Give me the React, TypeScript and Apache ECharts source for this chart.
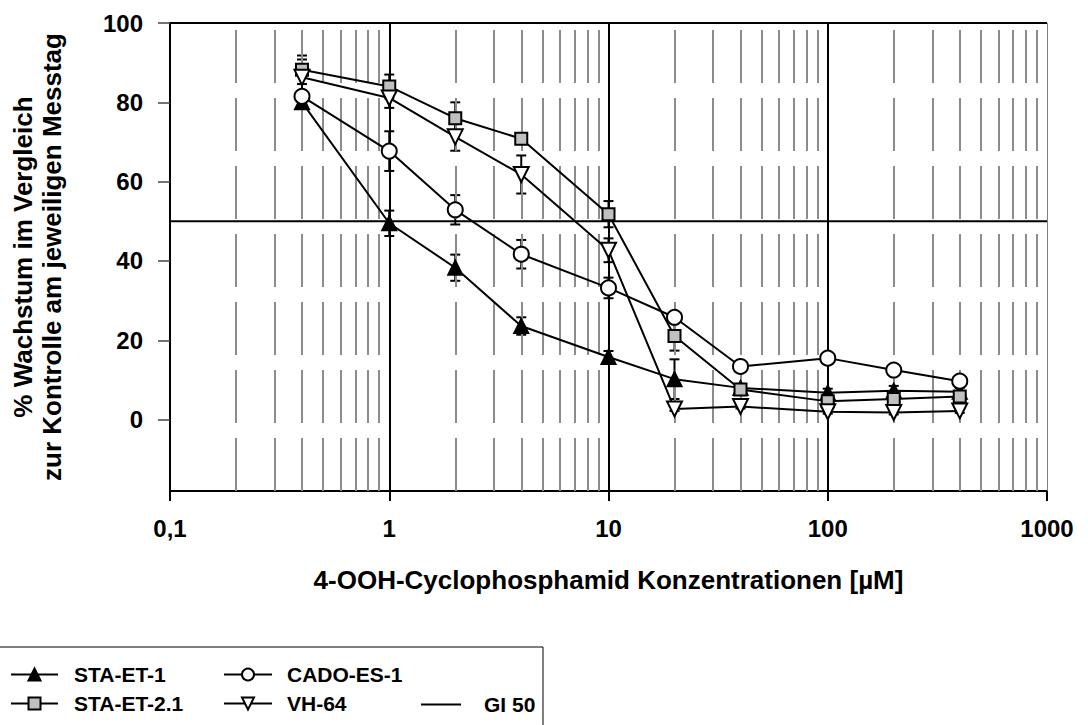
import React, { useEffect, useRef } from "react";
import * as echarts from "echarts";

// ---- data ----
const concentrations = [0.4, 1, 2, 4, 10, 20, 40, 100, 200, 400];
const staEt1 = [80, 49.5, 38.3, 23.6, 15.8, 10.2, 8, 6.8, 7.3, 7];
const staEt1Err = [1.5, 3.2, 3.3, 2.2, 1.5, 5, 1, 1, 1.2, 1];
const staEt21 = [88.2, 84, 76, 70.8, 51.8, 21.1, 7.6, 4.6, 5.2, 5.8];
const staEt21Err = [3.6, 3, 4, 1, 3.3, 3.7, 1, 1, 1, 1];
const cadoEs1 = [81.5, 67.7, 52.9, 41.7, 33.2, 25.8, 13.4, 15.5, 12.5, 9.7];
const cadoEs1Err = [1.5, 5, 3.7, 3.6, 2.6, 1, 0.5, 0.5, 0.5, 0.5];
const vh64 = [86.3, 81.1, 71.3, 61.8, 42.7, 2.7, 3.3, 2, 1.8, 2.2];
const vh64Err = [4.5, 2.5, 3.5, 4.8, 3, 0.5, 0.5, 0.5, 0.5, 0.5];
const gi50Value = 50;
const yTicks = [0, 20, 40, 60, 80, 100];
const majorGrid = [1, 10, 100];
const minorGrid = [
  0.2, 0.3, 0.4, 0.5, 0.6, 0.7, 0.8, 0.9,
  2, 3, 4, 5, 6, 7, 8, 9,
  20, 30, 40, 50, 60, 70, 80, 90,
  200, 300, 400, 500, 600, 700, 800, 900,
];
const xMin = 0.1;
const xMax = 1000;
const yMin = -18;
const yMax = 100;

const FONT = "'Liberation Sans', Arial, sans-serif";

const pairs = (vals: number[]) => concentrations.map((c, i) => [c, vals[i]]);

function errorSeries(vals: number[], errs: number[]) {
  return {
    type: "custom",
    silent: true,
    z: 3,
    data: concentrations.map((c, i) => [c, vals[i] - errs[i], vals[i] + errs[i]]),
    encode: { x: 0, y: [1, 2] },
    renderItem: (params: any, api: any) => {
      const x = api.value(0);
      const lo = api.coord([x, api.value(1)]);
      const hi = api.coord([x, api.value(2)]);
      const hw = 5;
      const st = { stroke: "#000", lineWidth: 2 };
      return {
        type: "group",
        children: [
          { type: "line", shape: { x1: lo[0], y1: lo[1], x2: hi[0], y2: hi[1] }, style: st },
          { type: "line", shape: { x1: lo[0] - hw, y1: lo[1], x2: lo[0] + hw, y2: lo[1] }, style: st },
          { type: "line", shape: { x1: hi[0] - hw, y1: hi[1], x2: hi[0] + hw, y2: hi[1] }, style: st },
        ],
      };
    },
  };
}

function dataSeries(name: string, vals: number[], symbol: string, size: number, fill: string, rotate = 0) {
  return {
    type: "line",
    name,
    data: pairs(vals),
    symbol,
    symbolSize: size,
    symbolRotate: rotate,
    showAllSymbol: true,
    z: 5,
    lineStyle: { color: "#000", width: 2 },
    itemStyle: { color: fill, borderColor: "#000", borderWidth: 2 },
    emphasis: { disabled: true },
  };
}

export default function App() {
  const ref = useRef<HTMLDivElement>(null);
  useEffect(() => {
    if (!ref.current) return;
    const chart = echarts.init(ref.current, null, { renderer: "svg" });
    const vline = (v: number) => [
      { coord: [v, yMax] },
      { coord: [v, yMin] },
    ];
    const legendText = { fontFamily: FONT, fontWeight: "bold", fontSize: 21, color: "#000" };
    chart.setOption({
      animation: false,
      grid: { left: 168, right: 41, top: 23, bottom: 234 },
      xAxis: {
        type: "log",
        logBase: 10,
        min: xMin,
        max: xMax,
        name: "4-OOH-Cyclophosphamid Konzentrationen [µM]",
        nameLocation: "middle",
        nameGap: 76,
        nameTextStyle: { fontFamily: FONT, fontWeight: "bold", fontSize: 26, color: "#000" },
        axisLine: { onZero: false, lineStyle: { color: "#000", width: 2 } },
        axisTick: { show: true, length: 10, lineStyle: { color: "#000", width: 2 } },
        axisLabel: {
          margin: 25,
          fontFamily: FONT,
          fontWeight: "bold",
          fontSize: 24,
          color: "#000",
          formatter: (v: number) => String(v).replace(".", ","),
        },
        splitLine: { show: false },
        minorTick: { show: false },
      },
      yAxis: {
        type: "value",
        min: yMin,
        max: yMax,
        name: "% Wachstum im Vergleich\nzur Kontrolle am jeweiligen Messtag",
        nameLocation: "middle",
        nameGap: 104,
        nameRotate: 90,
        nameTextStyle: { fontFamily: FONT, fontWeight: "bold", fontSize: 26, color: "#000", lineHeight: 29 },
        axisLine: { show: true, onZero: false, lineStyle: { color: "#000", width: 2 } },
        axisTick: { show: true, length: 12, customValues: yTicks, lineStyle: { color: "#444", width: 1.5 } },
        axisLabel: {
          margin: 27,
          customValues: yTicks,
          fontFamily: FONT,
          fontWeight: "bold",
          fontSize: 24,
          color: "#000",
        },
        splitLine: { show: false },
      },
      legend: [
        {
          orient: "vertical",
          left: 10,
          top: 664,
          padding: 0,
          itemWidth: 47,
          itemHeight: 15,
          itemGap: 8,
          data: ["STA-ET-1", "STA-ET-2.1"],
          textStyle: { ...legendText, padding: [0, 0, 0, 11] },
          selectedMode: false,
        },
        {
          orient: "vertical",
          left: 223,
          top: 664,
          padding: 0,
          itemWidth: 48,
          itemHeight: 15,
          itemGap: 8,
          data: ["CADO-ES-1", "VH-64"],
          textStyle: { ...legendText, padding: [0, 0, 0, 10] },
          selectedMode: false,
        },
        {
          orient: "horizontal",
          left: 421,
          top: 694,
          padding: 0,
          itemWidth: 40,
          itemHeight: 2,
          data: [{ name: "GI 50", icon: "rect" }],
          textStyle: { ...legendText, padding: [0, 0, 0, 18] },
          selectedMode: false,
        },
      ],
      graphic: [
        {
          type: "rect",
          shape: { x: -2, y: 647, width: 545, height: 100 },
          style: { fill: "none", stroke: "#000", lineWidth: 1 },
          silent: true,
        },
      ],
      series: [
        {
          type: "line",
          name: "GI 50",
          data: [[xMin, gi50Value], [xMax, gi50Value]],
          symbol: "none",
          z: 2,
          lineStyle: { color: "#000", width: 2 },
          itemStyle: { color: "#000" },
          emphasis: { disabled: true },
          markLine: {
            silent: true,
            symbol: ["none", "none"],
            label: { show: false },
            animation: false,
            data: [
              ...minorGrid.map((v) => {
                const l = vline(v);
                return [
                  { ...l[0], lineStyle: { color: "#8c8c8c", width: 2, type: [53, 15], dashOffset: 61 } },
                  l[1],
                ];
              }),
              ...majorGrid.map((v) => {
                const l = vline(v);
                return [{ ...l[0], lineStyle: { color: "#000", width: 2, type: "solid" } }, l[1]];
              }),
              [
                { coord: [xMax, yMax], lineStyle: { color: "#808080", width: 1, type: "solid" } },
                { coord: [xMax, yMin] },
              ],
              [
                { coord: [xMin, yMax], lineStyle: { color: "#000", width: 2, type: "solid" } },
                { coord: [xMax, yMax] },
              ],
            ],
          },
        },
        errorSeries(staEt1, staEt1Err),
        errorSeries(staEt21, staEt21Err),
        errorSeries(cadoEs1, cadoEs1Err),
        errorSeries(vh64, vh64Err),
        dataSeries("STA-ET-1", staEt1, "triangle", 14, "#000"),
        dataSeries("STA-ET-2.1", staEt21, "rect", 12, "#c0c0c0"),
        dataSeries("CADO-ES-1", cadoEs1, "circle", 15, "#fff"),
        dataSeries("VH-64", vh64, "triangle", 15, "#fff", 180),
      ],
    });
    return () => chart.dispose();
  }, []);
  return (
    <div
      ref={ref}
      style={{ position: "absolute", left: 0, top: 0, width: 1088, height: 725, background: "#fff" }}
    />
  );
}
